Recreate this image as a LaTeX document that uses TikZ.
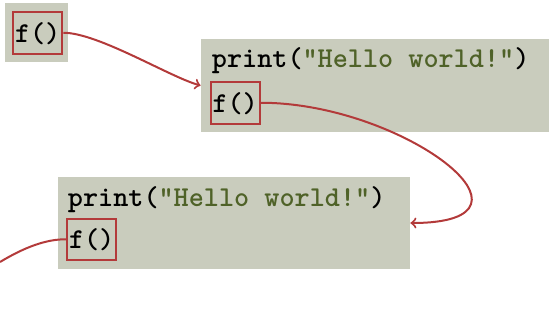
\documentclass[tikz,border=0pt]{standalone}
\usetikzlibrary{positioning}
\definecolor{codebg}{HTML}{C9CCBD}
\definecolor{callred}{HTML}{B33A3A}
\definecolor{strgreen}{HTML}{4F6228}
\tikzset{
  codebox/.style={fill=codebg, inner sep=0pt},
  codeline/.style={inner sep=0pt, anchor=base west, font=\Large\ttfamily\bfseries},
  callbox/.style={draw=callred, line width=1pt, inner xsep=1pt, inner ysep=1pt,
    text height=14pt, text depth=4.75pt, anchor=base west, font=\Large\ttfamily\bfseries},
  callarrow/.style={callred, line width=1pt, ->}
}
\newcommand{\hello}{print(\textcolor{strgreen}{"Hello world!"})}
\begin{document}
\begin{tikzpicture}[x=0.5pt, y=-0.5pt]
        \useasboundingbox (0,0) rectangle (549,327);
        % Sfondi dei blocchi
        \node[codebox, minimum width=31.5pt, minimum height=29.5pt] (boxA) at (36.5,32.5) {};
        \node[codebox, minimum width=174pt, minimum height=46.5pt] (boxB) at (375,85.5) {};
        \node[codebox, minimum width=176pt, minimum height=46pt] (boxC) at (234,223) {};
        % Righe di codice
        \node[callbox] (fA) at (12,42) {f()};
        \node[codeline] (printB) at (211.5,67) {\hello};
        \node[callbox] (fB) at (209.5,112) {f()};
        \node[codeline] (printC) at (67.5,206.5) {\hello};
        \node[callbox] (fC) at (66,248.5) {f()};
        \coordinate (out) at (0,262);
        % Chiamate
        \draw[callarrow] (fA.east) .. controls +(35,0) and +(-30,-8) .. (boxB.west);
        \draw[callarrow] (fB.east) .. controls +(142,0) and +(150,0) .. (boxC.east);
        \draw[callred, line width=1pt] (fC.west) .. controls +(-20,0) and +(25,-15) .. (out);
    \end{tikzpicture}
\end{document}
